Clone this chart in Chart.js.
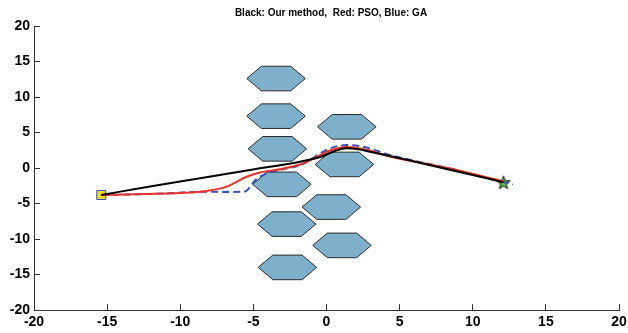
<!DOCTYPE html>
<html>
<head>
<meta charset="utf-8">
<script src="https://cdn.jsdelivr.net/npm/chart.js@4/dist/chart.umd.min.js"></script>
<style>
  body { margin: 0; background: #fff; }
  #wrap { width: 628px; height: 333px; }
</style>
</head>
<body>
<div id="wrap"><canvas id="myChart" width="628" height="333"></canvas></div>
<script>
// axis ticks
var tickValues = [-20, -15, -10, -5, 0, 5, 10, 15, 20];

// start / goal
var startPoint = [-15.4, -3.8];
var goalPoint = [12.1, -2.0];

// obstacles: hexagon centres, radius in data units
var hexX = [-3.45, -3.45, -3.36, -3.05, -2.72, -2.67, 1.39, 1.23, 0.33, 1.06];
var hexY = [12.6, 7.3, 2.7, -2.3, -7.9, -14.0, 5.8, 0.5, -5.5, -10.9];
var hexR = 2;

// paths
var ourX = [-15.4, -12.07, -8.65, -5.23, -1.81, -0.44, 0.58, 1.33, 2.29, 2.97, 5.03, 8.44, 12.1];
var ourY = [-3.8, -2.6, -1.45, -0.28, 0.89, 1.55, 2.4, 2.77, 2.6, 2.3, 1.37, -0.24, -2.0];

var psoX = [-15.4, -12.29, -10.02, -8.19, -6.82, -5.46, -4.55, -3.18, -1.81, -0.79, 0.24, 1.38, 2.52, 4.34, 8.44, 12.1];
var psoY = [-3.8, -3.66, -3.52, -3.24, -2.63, -1.23, -0.63, -0.18, 0.49, 1.41, 2.46, 2.96, 2.68, 1.62, -0.07, -1.9];

var gaX = [-15.4, -12.07, -8.19, -6.6, -5.57, -5.23, -4.89, -4.21, -3.18, -1.61, -0.67, 0.24, 1.38, 2.52, 4.34, 8.44, 12.75];
var gaY = [-3.8, -3.66, -3.35, -3.38, -3.31, -2.68, -1.76, -0.85, -0.28, 0.56, 1.76, 2.77, 3.24, 3.0, 1.83, -0.07, -2.32];

function toPoints(xs, ys) {
    var pts = [];
    for (var i = 0; i < xs.length; i++) {
        pts.push({x: xs[i], y: ys[i]});
    }
    return pts;
}

function hexPoints(cx, cy) {
    var pts = [];
    for (var k = 0; k <= 6; k++) {
        var a = k * Math.PI / 3;
        pts.push({x: cx + hexR * Math.cos(a), y: cy + hexR * Math.sin(a)});
    }
    return pts;
}

// star marker image
function makeStar(size) {
    var c = document.createElement('canvas');
    c.width = size; c.height = size;
    var g = c.getContext('2d');
    var cx = size / 2, cy = size / 2 + 0.8;
    var ro = size / 2 - 1, ri = ro * 0.42;
    g.beginPath();
    for (var i = 0; i < 10; i++) {
        var r = i % 2 == 0 ? ro : ri;
        var a = -Math.PI / 2 + i * Math.PI / 5;
        g.lineTo(cx + r * Math.cos(a), cy + r * Math.sin(a));
    }
    g.closePath();
    g.fillStyle = '#4cc24a';
    g.fill();
    g.lineWidth = 1;
    g.strokeStyle = '#111';
    g.stroke();
    return c;
}

var datasets = [];

datasets.push({
    label: 'Our method',
    data: toPoints(ourX, ourY),
    showLine: true,
    borderColor: '#000000',
    borderWidth: 2,
    pointRadius: 0,
    cubicInterpolationMode: 'monotone',
    fill: false,
    order: 1
});
datasets.push({
    label: 'PSO',
    data: toPoints(psoX, psoY),
    showLine: true,
    borderColor: '#e8322b',
    borderWidth: 2,
    pointRadius: 0,
    cubicInterpolationMode: 'monotone',
    fill: false,
    order: 2
});
datasets.push({
    label: 'GA',
    data: toPoints(gaX, gaY),
    showLine: true,
    borderColor: '#3a4fb4',
    borderWidth: 2,
    borderDash: [7, 4],
    pointRadius: 0,
    cubicInterpolationMode: 'monotone',
    fill: false,
    order: 3
});
datasets.push({
    label: 'start',
    data: [{x: startPoint[0], y: startPoint[1]}],
    pointStyle: 'rect',
    pointRadius: 6.4,
    backgroundColor: '#ecdc22',
    borderColor: '#3a50a8',
    borderWidth: 1,
    order: 5
});
datasets.push({
    label: 'goal',
    data: [{x: goalPoint[0], y: goalPoint[1]}],
    pointStyle: makeStar(16),
    order: 5
});

for (var h = 0; h < hexX.length; h++) {
    datasets.push({
        label: 'obstacle' + h,
        data: hexPoints(hexX[h], hexY[h]),
        showLine: true,
        tension: 0,
        borderColor: '#2a2a2a',
        borderWidth: 1,
        backgroundColor: '#7eb0cb',
        fill: 'shape',
        pointRadius: 0,
        order: 10
    });
}

var titlePlugin = {
    id: 'plotTitle',
    afterDraw: function(chart) {
        var ctx = chart.ctx;
        var a = chart.chartArea;
        ctx.save();
        ctx.font = 'bold 10px "Liberation Sans", Arial, sans-serif';
        ctx.fillStyle = '#000';
        ctx.textAlign = 'center';
        ctx.textBaseline = 'middle';
        ctx.fillText('Black: Our method,  Red: PSO, Blue: GA', (a.left + a.right) / 2 + 4.5, 13);
        ctx.restore();
    }
};

var tickFont = {family: '"Liberation Sans", Arial, sans-serif', size: 14, weight: 'bold'};

var ctx = document.getElementById('myChart').getContext('2d');
var chart = new Chart(ctx, {
    type: 'scatter',
    data: {datasets: datasets},
    options: {
        responsive: false,
        animation: false,
        layout: {padding: {left: 0, right: 0, top: 26, bottom: 0}},
        plugins: {
            legend: {display: false},
            tooltip: {enabled: false},
            title: {display: false}
        },
        scales: {
            x: {
                type: 'linear',
                min: -20, max: 20,
                afterBuildTicks: function(s) { s.ticks = tickValues.map(function(v) { return {value: v}; }); },
                afterFit: function(s) { s.height = 23; s.paddingRight = 9; },
                ticks: {color: '#000', font: tickFont, padding: 10, maxRotation: 0, autoSkip: false},
                grid: {drawOnChartArea: false, drawTicks: true, tickLength: -6, color: '#333', lineWidth: 1},
                border: {display: true, color: '#333', width: 1}
            },
            y: {
                type: 'linear',
                min: -20, max: 20,
                afterBuildTicks: function(s) { s.ticks = tickValues.map(function(v) { return {value: v}; }); },
                afterFit: function(s) { s.width = 34; },
                ticks: {color: '#000', font: tickFont, padding: 10, autoSkip: false},
                grid: {drawOnChartArea: false, drawTicks: true, tickLength: -6, color: '#333', lineWidth: 1},
                border: {display: true, color: '#333', width: 1}
            }
        }
    },
    plugins: [titlePlugin]
});
</script>
</body>
</html>
